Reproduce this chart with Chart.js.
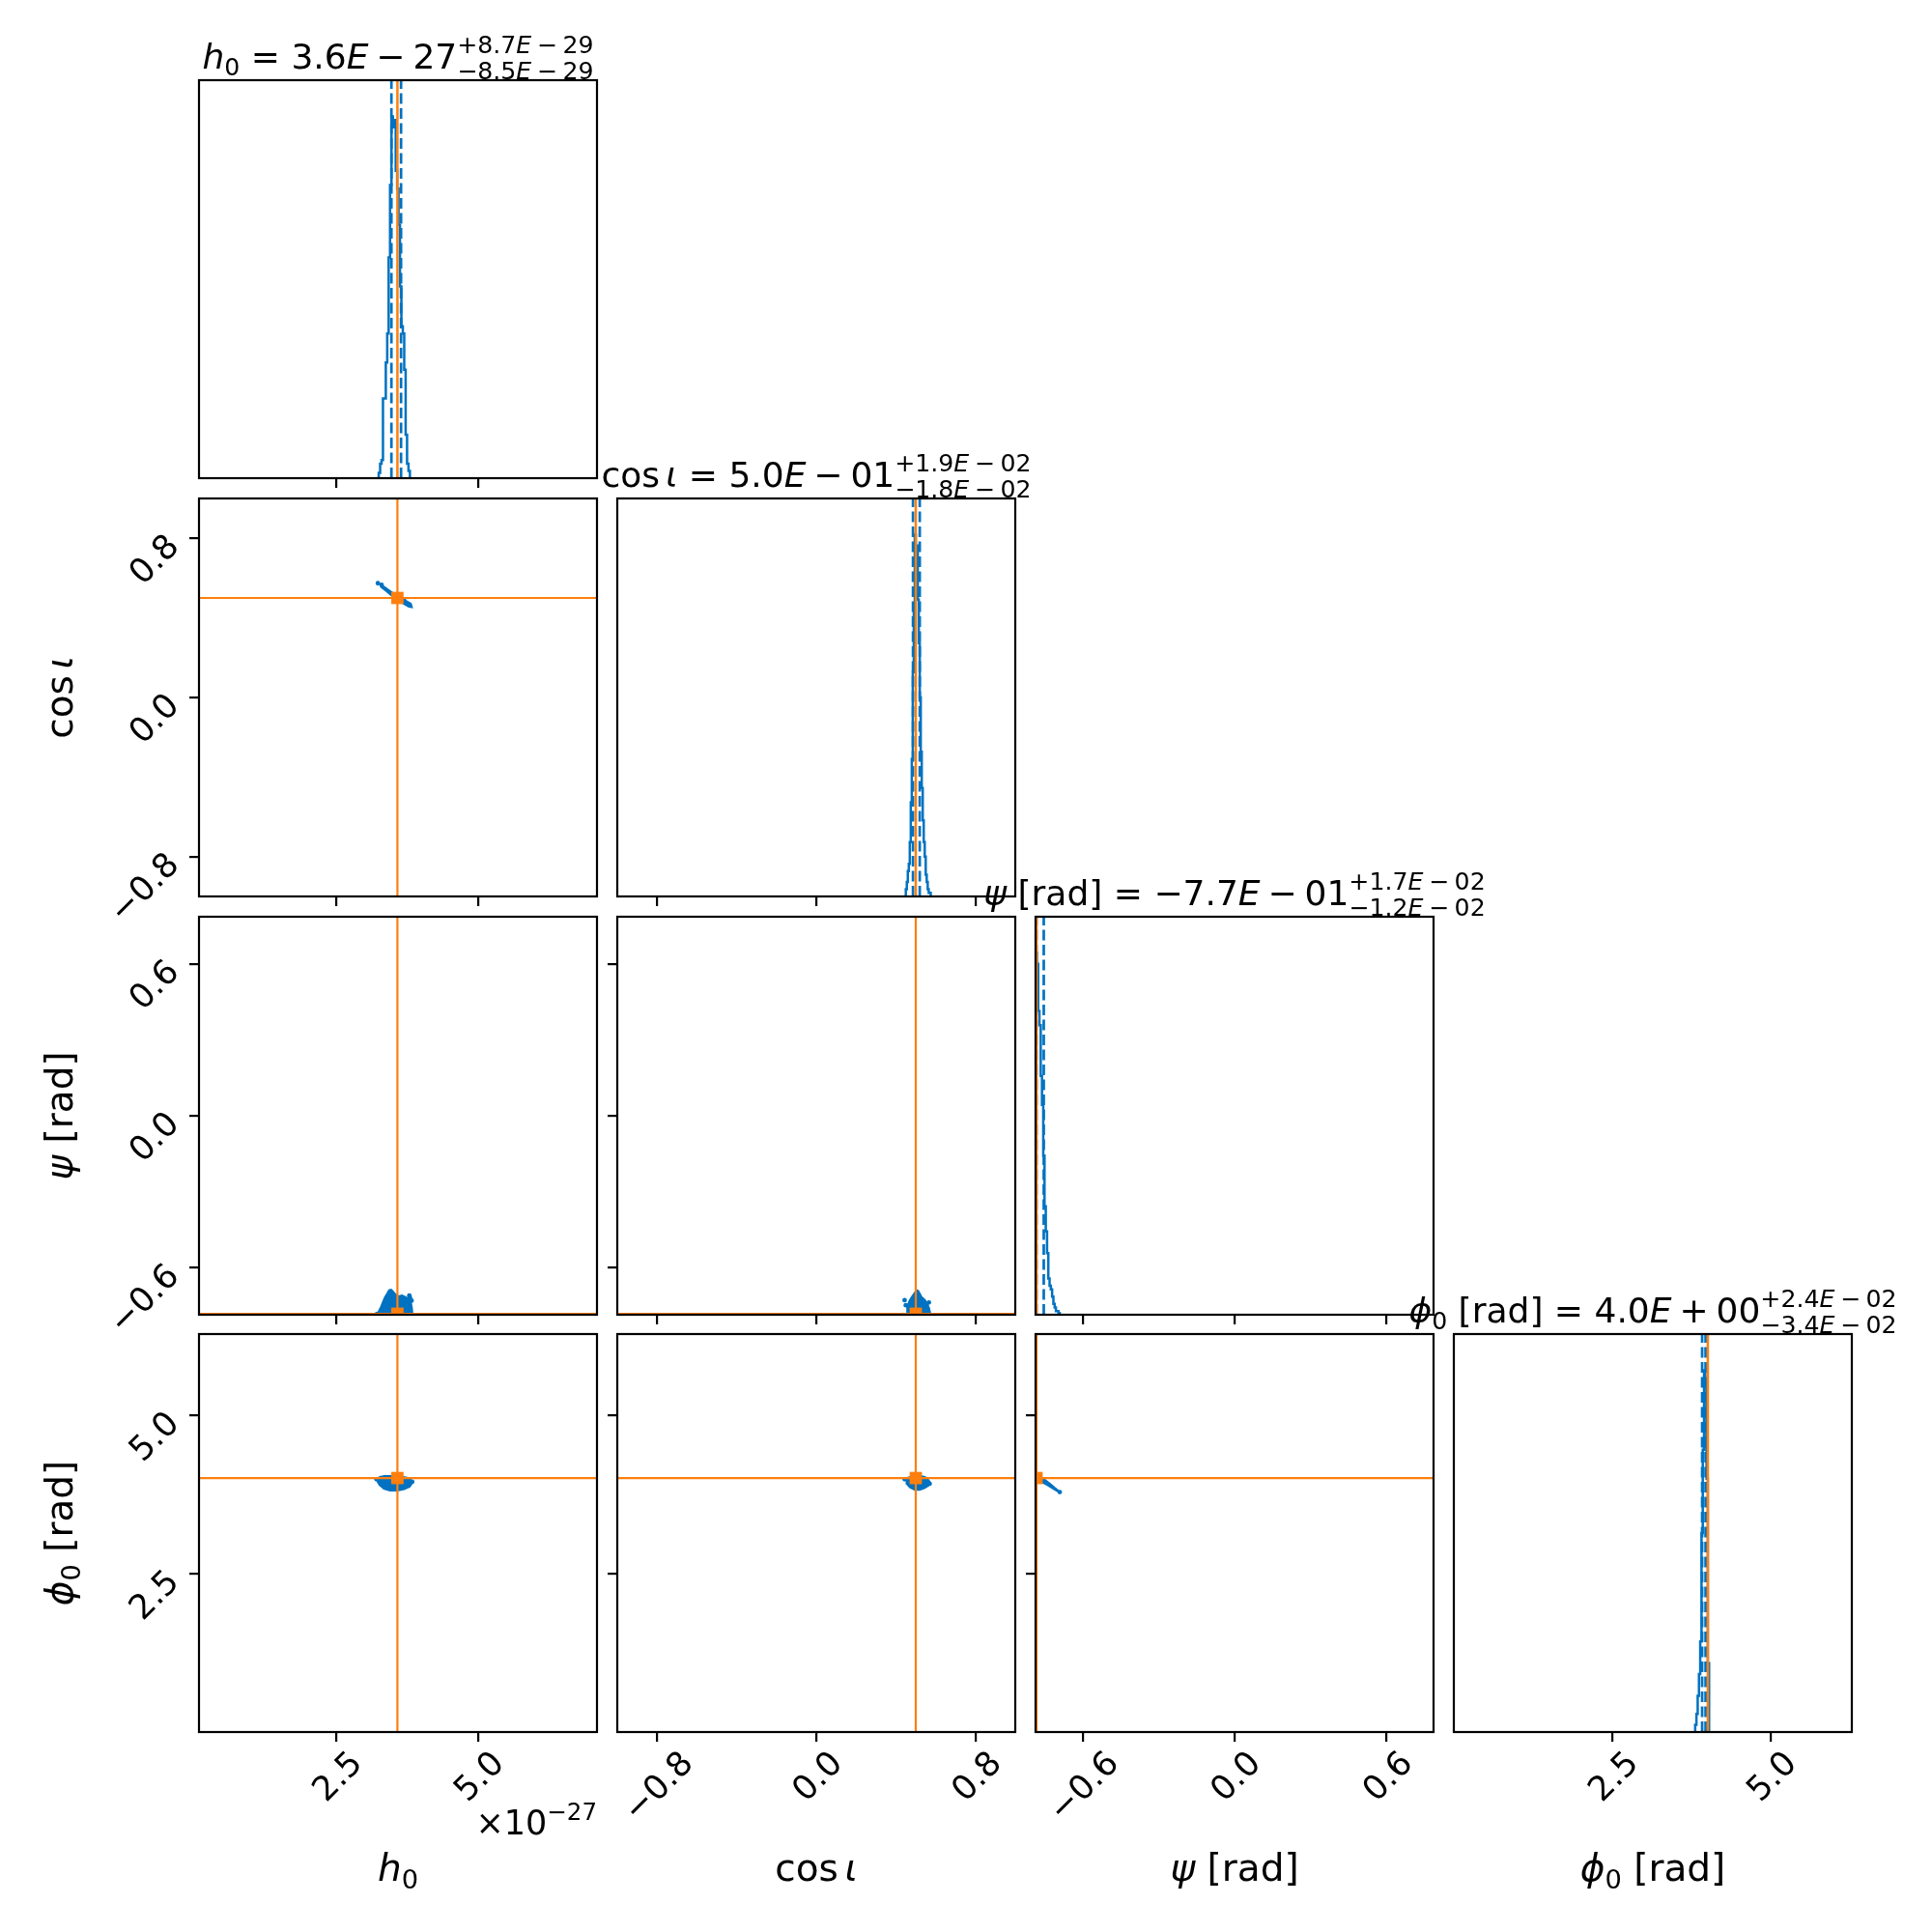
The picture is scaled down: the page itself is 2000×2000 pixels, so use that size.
<!DOCTYPE html>
<html><head><meta charset="utf-8">
<script src="https://cdn.jsdelivr.net/npm/chart.js@4.4.1/dist/chart.umd.min.js"></script>
<style>
html,body{margin:0;padding:0;background:#fff;overflow:hidden;width:2000px;height:2000px}
#wrap{position:relative;width:2000px;height:2000px;background:#fff;overflow:hidden}
#wrap canvas{position:absolute}
</style></head>
<body><div id="wrap"></div>
<script>
// ---------------- data ----------------
const paramRange = [[0.08, 7.10], [-1, 1], [-0.7854, 0.7854], [0, 6.2832]];
const paramTicks = [[2.5, 5.0], [-0.8, 0, 0.8], [-0.6, 0, 0.6], [2.5, 5.0]];
const paramTickLabels = [['2.5', '5.0'], ['−0.8', '0.0', '0.8'], ['−0.6', '0.0', '0.6'], ['2.5', '5.0']];
const truths = [3.58, 0.5, -0.7815, 4.01];
const quantLo = [3.474, 0.486, -0.782, 3.920];
const quantHi = [3.644, 0.520, -0.753, 3.974];
const titleMedian = ['3.6E−27', '5.0E−01', '−7.7E−01', '4.0E+00'];
const titlePlus = ['8.7E−29', '1.9E−02', '1.7E−02', '2.4E−02'];
const titleMinus = ['8.5E−29', '1.8E−02', '1.2E−02', '3.4E−02'];
const h0Offset = ['×10', '−27'];

const h0Edges = [3.250,3.275,3.300,3.325,3.350,3.375,3.400,3.425,3.450,3.475,3.500,3.525,3.550,3.575,3.600,3.625,3.650,3.675,3.700,3.725,3.750,3.775,3.800];
const h0Counts = [0.015,0.04,0.05,0.22,0.22,0.32,0.40,0.61,0.81,1.00,0.97,0.99,0.85,0.80,0.70,0.53,0.42,0.40,0.30,0.12,0.04,0.02];
const cosEdges = [0.450,0.455,0.460,0.465,0.470,0.475,0.480,0.485,0.490,0.495,0.500,0.505,0.510,0.515,0.520,0.525,0.530,0.535,0.540,0.545,0.550,0.555,0.560,0.565,0.570,0.575];
const cosCounts = [0.02,0.04,0.07,0.09,0.15,0.26,0.38,0.62,0.80,1.00,0.93,0.97,0.82,0.70,0.55,0.40,0.30,0.21,0.15,0.11,0.06,0.04,0.02,0.01,0.01];
const psiEdges = [-0.785,-0.780,-0.775,-0.770,-0.765,-0.760,-0.755,-0.750,-0.745,-0.740,-0.735,-0.730,-0.725,-0.720,-0.715,-0.710,-0.705,-0.700,-0.695,-0.690];
const psiCounts = [1.0,0.97,0.84,0.80,0.66,0.58,0.44,0.30,0.23,0.17,0.10,0.08,0.07,0.05,0.03,0.02,0.01,0.01,0.005];
const phiEdges = [3.81,3.83,3.85,3.87,3.89,3.91,3.93,3.95,3.97,3.99,4.01,4.03];
const phiCounts = [0.02,0.05,0.10,0.16,0.25,0.55,0.78,1.00,0.96,0.70,0.19];

// 2-D sample regions (x param, y param)
const blobH0Cos = [[3.27,0.568],[3.35,0.556],[3.45,0.536],[3.55,0.516],[3.65,0.498],[3.75,0.484],[3.82,0.472],[3.84,0.452],[3.78,0.455],[3.68,0.472],[3.58,0.488],[3.48,0.510],[3.38,0.534],[3.28,0.556]];
const dotsH0Cos = [[3.235,0.574],[3.30,0.566],[3.62,0.508],[3.70,0.486]];
const blobH0Psi = [[3.24,-0.786],[3.24,-0.776],[3.29,-0.752],[3.35,-0.719],[3.40,-0.700],[3.43,-0.688],[3.47,-0.686],[3.50,-0.692],[3.55,-0.705],[3.60,-0.712],[3.66,-0.708],[3.72,-0.715],[3.78,-0.722],[3.82,-0.735],[3.84,-0.760],[3.85,-0.786]];
const dotsH0Psi = [[3.80,-0.718],[3.83,-0.730],[3.22,-0.782],[3.79,-0.710]];
const blobCosPsi = [[0.455,-0.786],[0.456,-0.752],[0.468,-0.730],[0.482,-0.712],[0.495,-0.697],[0.503,-0.688],[0.512,-0.690],[0.520,-0.700],[0.530,-0.715],[0.545,-0.725],[0.558,-0.740],[0.568,-0.760],[0.576,-0.786]];
const dotsCosPsi = [[0.444,-0.728],[0.450,-0.748],[0.566,-0.737]];
const blobH0Phi = [[3.22,4.00],[3.27,4.03],[3.35,4.045],[3.45,4.045],[3.55,4.04],[3.65,4.035],[3.75,4.02],[3.82,3.99],[3.84,3.93],[3.80,3.87],[3.70,3.83],[3.58,3.81],[3.45,3.81],[3.34,3.84],[3.26,3.90],[3.22,3.96]];
const dotsH0Phi = [[3.21,3.99],[3.84,3.95]];
const blobCosPhi = [[0.447,3.99],[0.46,4.02],[0.49,4.04],[0.52,4.05],[0.545,4.03],[0.56,4.00],[0.571,3.95],[0.565,3.89],[0.545,3.85],[0.52,3.82],[0.495,3.82],[0.47,3.86],[0.45,3.93]];
const dotsCosPhi = [[0.444,3.99],[0.570,3.92]];
const blobPsiPhi = [[-0.786,4.07],[-0.77,4.04],[-0.75,3.99],[-0.73,3.93],[-0.71,3.86],[-0.695,3.81],[-0.69,3.79],[-0.70,3.80],[-0.72,3.85],[-0.74,3.90],[-0.76,3.94],[-0.786,3.96]];
const dotsPsiPhi = [[-0.690,3.788]];

const histEdges = [h0Edges, cosEdges, psiEdges, phiEdges];
const histCounts = [h0Counts, cosCounts, psiCounts, phiCounts];
const blobs = {'01': blobH0Cos, '02': blobH0Psi, '12': blobCosPsi, '03': blobH0Phi, '13': blobCosPhi, '23': blobPsiPhi};
const dots = {'01': dotsH0Cos, '02': dotsH0Psi, '12': dotsCosPsi, '03': dotsH0Phi, '13': dotsCosPhi, '23': dotsPsiPhi};

// ---------------- layout / style ----------------
const BLUE = '#0072c1', ORANGE = '#ff7f0e';
const FONT = "'DejaVu Sans'";
const P = 412, ML = 206, MR = 90, MT = 90, MB = 210;
const colLeft = [206, 639, 1072, 1505];
const rowTop = [83, 516, 949, 1381];
const TICK_FS = 35, LABEL_FS = 39, TITLE_FS = 36;

const LABEL_TOKENS = [
  [{t:'h',it:1},{t:'0',sub:1}],
  [{t:'cos'},{g:0.17},{t:'ι',it:1}],
  [{t:'ψ',it:1},{t:' [rad]'}],
  [{t:'ϕ',it:1},{t:'0',sub:1},{t:' [rad]'}]
];
function sci(str) {
  const parts = str.split('E');
  return [{t:parts[0]},{t:'E',it:1},{g:0.22},{t:parts[1][0]},{g:0.22},{t:parts[1].slice(1)}];
}
function titleTokens(i) {
  return [...LABEL_TOKENS[i], {t:' = '}, ...sci(titleMedian[i]),
    {sc:{up:[{t:'+'}, ...sci(titlePlus[i])], dn:[{t:'−'}, ...sci(titleMinus[i])]}}];
}
function fnt(it, size) { return (it ? 'italic ' : '') + size + 'px ' + FONT; }
function tokWidth(ctx, tok, s) {
  if (tok.g != null) return tok.g * s;
  if (tok.sc) return Math.max(runWidth(ctx, tok.sc.up, s*0.7), runWidth(ctx, tok.sc.dn, s*0.7));
  const size = (tok.sub || tok.up) ? s*0.7 : s;
  ctx.font = fnt(tok.it, size);
  return ctx.measureText(tok.t).width;
}
function runWidth(ctx, toks, s) { return toks.reduce((a, t) => a + tokWidth(ctx, t, s), 0); }
function drawRun(ctx, toks, x, y, s) {
  for (const tok of toks) {
    if (tok.g != null) { x += tok.g * s; continue; }
    if (tok.sc) {
      drawRun(ctx, tok.sc.up, x, y - 0.45*s, s*0.7);
      drawRun(ctx, tok.sc.dn, x, y + 0.30*s, s*0.7);
      x += tokWidth(ctx, tok, s); continue;
    }
    let size = s, dy = 0;
    if (tok.sub) { size = s*0.7; dy = 0.2*s; }
    if (tok.up) { size = s*0.7; dy = -0.42*s; }
    ctx.font = fnt(tok.it, size);
    ctx.fillText(tok.t, x, y + dy);
    x += ctx.measureText(tok.t).width;
  }
}
function rotLabel(ctx, text, cx, cy, s) {
  ctx.save(); ctx.translate(cx, cy); ctx.rotate(-Math.PI/4);
  ctx.font = fnt(0, s); ctx.textAlign = 'center'; ctx.textBaseline = 'alphabetic';
  ctx.fillText(text, 0, 0.365*s); ctx.restore();
}
function halfDiag(ctx, text, s) {
  ctx.font = fnt(0, s);
  return (ctx.measureText(text).width + 0.73*s) * 0.3536;
}

function stepPoints(edges, counts) {
  const pts = [{x: edges[0], y: 0}];
  counts.forEach((c, i) => { pts.push({x: edges[i], y: c}); pts.push({x: edges[i+1], y: c}); });
  pts.push({x: edges[edges.length-1], y: 0});
  return pts;
}
function lineDs(pts, color, w, dash) {
  return {data: pts, borderColor: color, backgroundColor: color, borderWidth: w, pointRadius: 0,
          borderDash: dash || [], fill: false, clip: 0, tension: 0};
}
const toXY = arr => arr.map(p => ({x: p[0], y: p[1]}));

function makePlugin(r, c) {
  return {
    id: 'corner' + r + c,
    afterDraw(chart) {
      const ctx = chart.ctx, a = chart.chartArea, xs = chart.scales.x, ys = chart.scales.y;
      ctx.save();
      ctx.strokeStyle = '#000'; ctx.lineWidth = 2.2;
      ctx.strokeRect(a.left, a.top, a.right - a.left, a.bottom - a.top);
      ctx.fillStyle = '#000'; ctx.textAlign = 'left'; ctx.textBaseline = 'alphabetic';
      if (r === 3) {
        paramTicks[c].forEach((v, i) => {
          const txt = paramTickLabels[c][i];
          const k = halfDiag(ctx, txt, TICK_FS);
          rotLabel(ctx, txt, xs.getPixelForValue(v), a.bottom + 16 + k, TICK_FS);
        });
        const toks = LABEL_TOKENS[c];
        const w = runWidth(ctx, toks, LABEL_FS);
        drawRun(ctx, toks, (a.left + a.right)/2 - w/2, a.bottom + 154, LABEL_FS);
        if (c === 0) {
          const ot = [{t: h0Offset[0]}, {t: h0Offset[1], up: 1}];
          const ow = runWidth(ctx, ot, TICK_FS);
          drawRun(ctx, ot, a.right - ow, a.bottom + 106, TICK_FS);
        }
      }
      if (c === 0 && r > 0) {
        paramTicks[r].forEach((v, i) => {
          const txt = paramTickLabels[r][i];
          const k = halfDiag(ctx, txt, TICK_FS);
          rotLabel(ctx, txt, a.left - 19 - k, ys.getPixelForValue(v) - 8 + k, TICK_FS);
        });
        const toks = LABEL_TOKENS[r];
        const w = runWidth(ctx, toks, LABEL_FS);
        ctx.save();
        ctx.translate(a.left - 144, (a.top + a.bottom)/2);
        ctx.rotate(-Math.PI/2);
        drawRun(ctx, toks, -w/2, 0.33*LABEL_FS, LABEL_FS);
        ctx.restore();
      }
      if (r === c) {
        const toks = titleTokens(c);
        const w = runWidth(ctx, toks, TITLE_FS);
        drawRun(ctx, toks, (a.left + a.right)/2 - w/2, a.top - 12, TITLE_FS);
      }
      ctx.restore();
    }
  };
}

function axisCfg(range, ticks, isX, showTicks) {
  return {
    type: 'linear', min: range[0], max: range[1],
    afterFit(s) { if (isX) s.height = MB; else s.width = ML; },
    afterBuildTicks(s) { s.ticks = ticks.map(v => ({value: v})); },
    ticks: {display: false},
    grid: {display: showTicks, drawOnChartArea: false, drawTicks: true, tickLength: 10, lineWidth: 2.2, color: '#000'},
    border: {display: false}
  };
}

const wrap = document.getElementById('wrap');
function makePanel(r, c) {
  const cv = document.createElement('canvas');
  const W = ML + P + MR, H = MT + P + MB;
  cv.width = W; cv.height = H;
  cv.style.left = (colLeft[c] - ML) + 'px'; cv.style.top = (rowTop[r] - MT) + 'px';
  cv.style.width = W + 'px'; cv.style.height = H + 'px';
  wrap.appendChild(cv);
  const diag = r === c;
  const xr = paramRange[c];
  let yr, datasets;
  if (diag) {
    const counts = histCounts[c];
    const ymax = 1.1 * Math.max(...counts);
    yr = [0, ymax];
    datasets = [
      lineDs([{x: truths[c], y: 0}, {x: truths[c], y: ymax}], ORANGE, 2.5),
      lineDs([{x: quantLo[c], y: 0}, {x: quantLo[c], y: ymax}], BLUE, 2.7, [11, 4.5]),
      lineDs([{x: quantHi[c], y: 0}, {x: quantHi[c], y: ymax}], BLUE, 2.7, [11, 4.5]),
      lineDs(stepPoints(histEdges[c], counts), BLUE, 2.5)
    ];
  } else {
    yr = paramRange[r];
    const key = '' + c + r;
    datasets = [
      lineDs([{x: truths[c], y: yr[0]}, {x: truths[c], y: yr[1]}], ORANGE, 2.2),
      lineDs([{x: xr[0], y: truths[r]}, {x: xr[1], y: truths[r]}], ORANGE, 2.2),
      {data: [{x: truths[c], y: truths[r]}], showLine: false, pointStyle: 'rect', pointRadius: 9,
       backgroundColor: ORANGE, borderColor: ORANGE, borderWidth: 0, clip: 0},
      {data: toXY(dots[key]), showLine: false, pointRadius: 2.4, pointStyle: 'circle',
       backgroundColor: BLUE, borderColor: BLUE, borderWidth: 0, clip: 0},
      {data: toXY(blobs[key]), fill: 'shape', backgroundColor: BLUE, borderColor: BLUE,
       borderWidth: 1.5, pointRadius: 0, clip: 0, tension: 0}
    ];
  }
  new Chart(cv, {
    type: 'line',
    data: {datasets},
    options: {
      responsive: false, animation: false, devicePixelRatio: 1, events: [],
      layout: {padding: {top: MT, right: MR, left: 0, bottom: 0}, autoPadding: false},
      plugins: {legend: {display: false}, tooltip: {enabled: false}, title: {display: false}},
      scales: {
        x: axisCfg(xr, paramTicks[c], true, true),
        y: axisCfg(yr, diag ? [] : paramTicks[r], false, !diag)
      }
    },
    plugins: [makePlugin(r, c)]
  });
}
for (let r = 0; r < 4; r++) for (let c = 0; c <= r; c++) makePanel(r, c);
</script>
</body></html>
